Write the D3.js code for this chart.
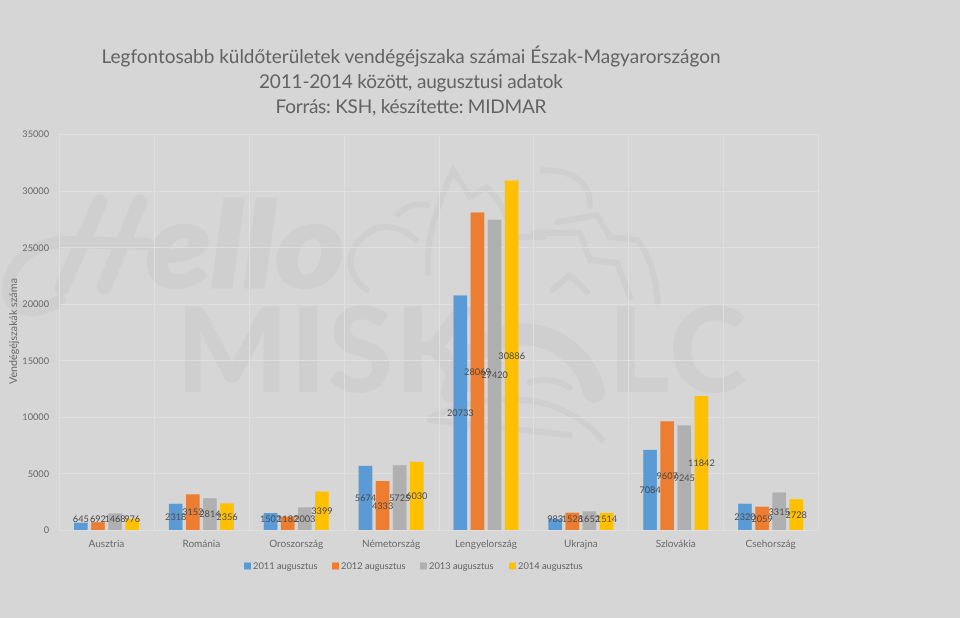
<!DOCTYPE html>
<html><head><meta charset="utf-8">
<script src="https://cdn.jsdelivr.net/npm/d3@7/dist/d3.min.js"></script>
<style>html,body{margin:0;background:#d6d6d6}svg{display:block;font-family:Lato,"Open Sans",sans-serif;text-rendering:geometricPrecision;filter:blur(0.3px)}</style>
</head><body><svg id="c" width="960" height="618"></svg>
<script>
const categories=["Ausztria","Románia","Oroszország","Németország","Lengyelország","Ukrajna","Szlovákia","Csehország"];
const seriesNames=["2011 augusztus","2012 augusztus","2013 augusztus","2014 augusztus"];
const s2011=[645,2318,1502,5674,20733,983,7084,2320];
const s2012=[692,3152,1182,4333,28069,1528,9607,2059];
const s2013=[1468,2814,2003,5725,27420,1652,9245,3315];
const s2014=[976,2356,3399,6030,30886,1514,11842,2728];
const colors=["#5b9bd5","#ed7d31","#b0b0b0","#ffc000"];
const yTicks=[0,5000,10000,15000,20000,25000,30000,35000];
const titleLines=["Legfontosabb küldőterületek vendégéjszaka számai Észak-Magyarországon","2011-2014 között, augusztusi adatok","Forrás: KSH, készítette: MIDMAR"];
const titleWidths=[619,304,271];
const series=[s2011,s2012,s2013,s2014];

const svg=d3.select("#c");
svg.append("rect").attr("width",960).attr("height",618).attr("fill","#d6d6d6");
const L=59,R=818,T=134,B=530;
const x0=d3.scaleBand().domain(categories).range([L,R]);
const x1=d3.scaleBand().domain(d3.range(4)).range([15,80]).paddingInner(0.2);
const y=d3.scaleLinear().domain([0,35000]).range([B,T]);

// watermark (background picture of the original slide)
const wm=svg.append("g").attr("fill","#cfcfcf");
wm.append("text").attr("transform","translate(146,287) scale(1.12,1)").attr("font-size",118).attr("font-weight",900).attr("font-style","italic").attr("stroke","#cfcfcf").attr("stroke-width",3).text("ello");
wm.append("text").attr("x",176).attr("y",392).attr("font-size",118).attr("font-weight",900).attr("letter-spacing",2).text("MISK");
wm.append("text").attr("x",608).attr("y",392).attr("font-size",118).attr("font-weight",900).attr("letter-spacing",2).text("LC");
const wmStrokes=[
 {w:15,d:"M100 202 L62 288"},
 {w:15,d:"M140 202 L104 287"},
 {w:12,d:"M148 244 L62 242 C30 244 8 265 8 290 C8 310 35 318 60 300"},
 {w:22,d:"M452 392 A73 75 0 0 1 594 392"},
 {w:6,d:"M428 273 C425 235 440 200 453 170 L470 197 L487 187 L498 200 L517 237 L543 237"},
 {w:6,d:"M397 215 C405 206 415 203 427 205"},
 {w:6,d:"M367 290 C345 275 342 245 377 228 C392 224 408 232 416 240"},
 {w:6,d:"M543 170 C570 170 590 180 590 205"},
 {w:6,d:"M557 222 L597 215 L610 237 L637 240 C650 255 655 275 658 303"},
 {w:6,d:"M533 233 L580 233 L590 260 L617 263 L630 297"},
 {w:6,d:"M552 290 L570 275 L587 292"},
 {w:6,d:"M530 382 C545 378 558 380 570 388"},
 {w:6,d:"M430 418 C470 398 520 395 550 405 C575 415 590 425 602 440"},
 {w:6,d:"M430 420 C470 425 520 430 570 435"}
];
wm.selectAll("path").data(wmStrokes).join("path").attr("d",d=>d.d).attr("fill","none").attr("stroke","#cfcfcf").attr("stroke-width",d=>d.w).attr("stroke-linecap","round");

// grid
const grid=svg.append("g").attr("stroke","#dfdfdf").attr("stroke-width",1);
grid.selectAll("line.h").data(yTicks).join("line").attr("class","h").attr("x1",L).attr("x2",R).attr("y1",d=>Math.round(y(d))+.5).attr("y2",d=>Math.round(y(d))+.5);
grid.selectAll("line.v").data(d3.range(9)).join("line").attr("class","v").attr("y1",T).attr("y2",B).attr("x1",d=>Math.round(L+d*x0.bandwidth())+.5).attr("x2",d=>Math.round(L+d*x0.bandwidth())+.5);

// y axis
const ya=svg.append("g").attr("transform",`translate(${L},0)`).call(d3.axisLeft(y).tickValues(yTicks).tickFormat(d3.format("d")).tickSize(0).tickPadding(10));
ya.select(".domain").remove();
ya.selectAll("text").attr("fill","#686868").attr("font-size",9.2).attr("font-family","Lato");

// x axis
const xa=svg.append("g").attr("transform",`translate(0,${B})`).call(d3.axisBottom(x0).tickSize(0).tickPadding(10));
xa.select(".domain").remove();
xa.selectAll("text").attr("fill","#6c6c6c").attr("font-size",10).attr("font-family","Lato");

// bars
series.forEach((vals,i)=>{
  svg.append("g").attr("fill",colors[i]).selectAll("rect").data(vals).join("rect")
    .attr("x",(v,j)=>x0(categories[j])+x1(i)).attr("width",x1.bandwidth())
    .attr("y",v=>y(v)).attr("height",v=>B-y(v));
});
// data labels: centred in the bar, lifted clear of the axis for short bars; drawn above all bars
const labelLift=y(0)-y(970);
series.forEach((vals,i)=>{
  svg.append("g").selectAll("text").data(vals).join("text")
    .attr("x",(v,j)=>x0(categories[j])+x1(i)+x1.bandwidth()/2)
    .attr("y",v=>Math.min(y(v/2),y(0)-labelLift))
    .attr("dy","0.36em").attr("text-anchor","middle").attr("font-size",9.2).attr("fill","#4a4a4a").text(v=>v);
});

// axis title
svg.append("text").attr("transform","translate(17,331) rotate(-90)").attr("text-anchor","middle").attr("font-size",10.7).attr("fill","#6a6a6a").text("Vendégéjszakák száma");

// title
svg.append("g").selectAll("text").data(titleLines).join("text").attr("x",411).attr("y",(d,i)=>63+i*25).attr("text-anchor","middle").attr("font-size",19).attr("textLength",(d,i)=>titleWidths[i]).attr("lengthAdjust","spacing").attr("fill","#636363").text(d=>d);

// legend
const lx=d3.scaleOrdinal().domain(seriesNames).range([244,332,420,509]);
const lg=svg.append("g").selectAll("g").data(seriesNames).join("g").attr("transform",d=>`translate(${lx(d)},566)`);
lg.append("rect").attr("y",-3.5).attr("width",7).attr("height",7).attr("fill",(d,i)=>colors[i]);
lg.append("text").attr("x",9).attr("dy","0.35em").attr("font-size",9.3).attr("fill","#636363").text(d=>d);
</script></body></html>
